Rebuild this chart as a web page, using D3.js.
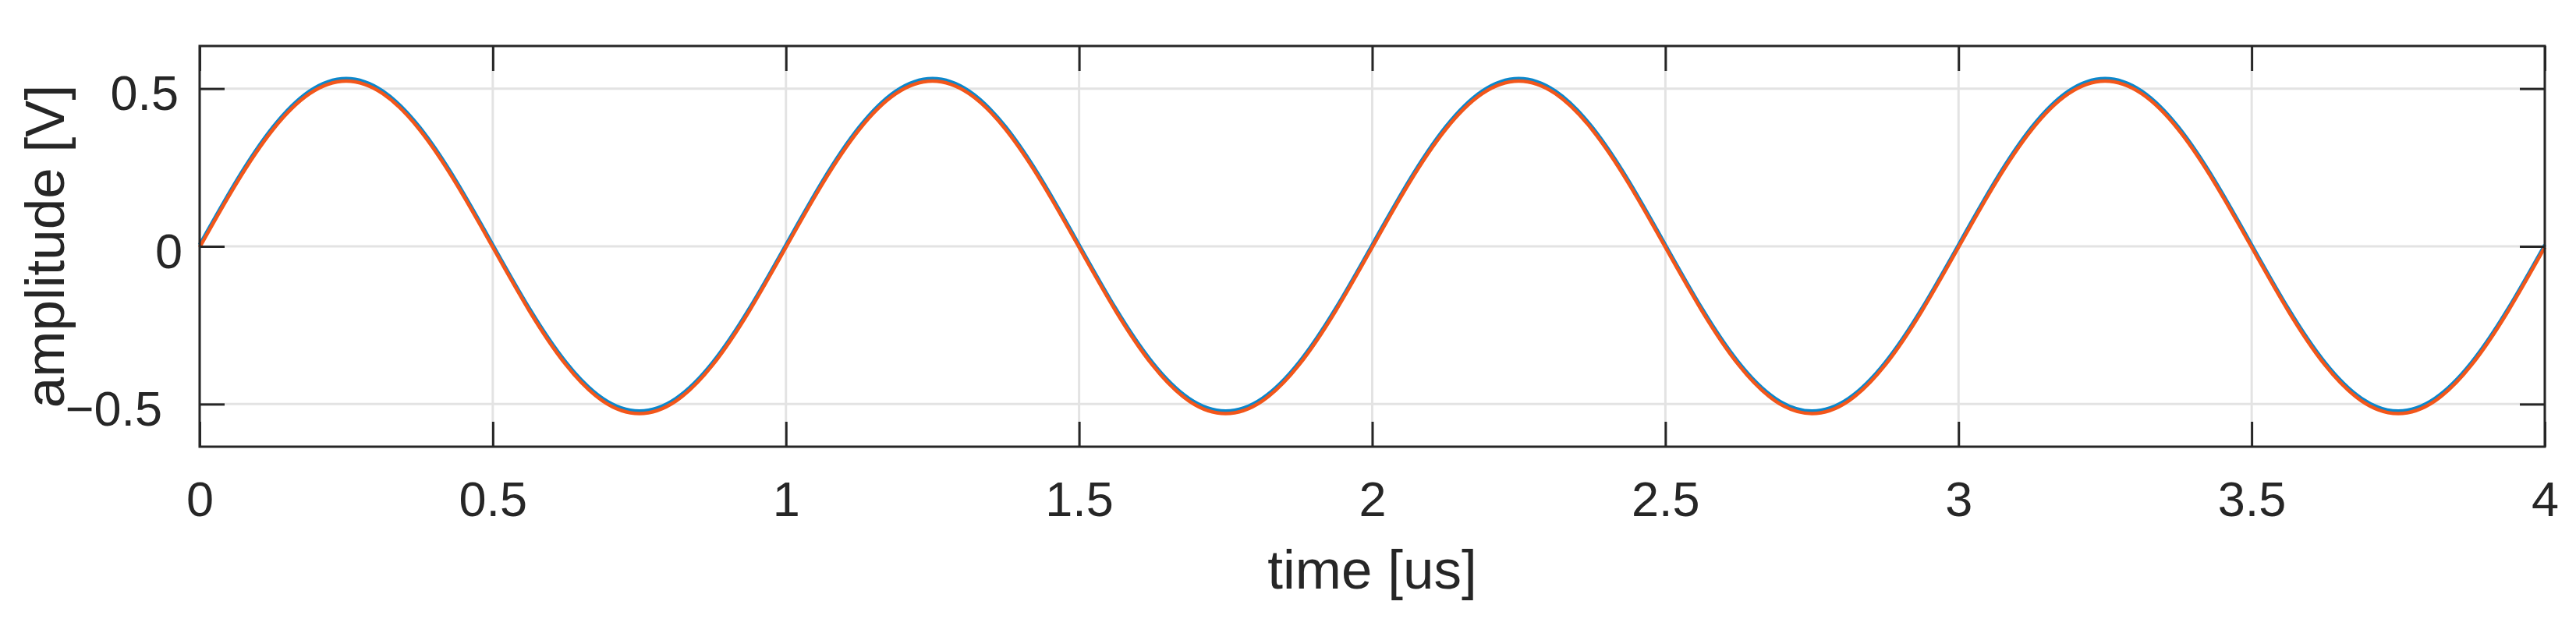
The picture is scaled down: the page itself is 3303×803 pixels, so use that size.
<!DOCTYPE html>
<html>
<head>
<meta charset="utf-8">
<script src="https://cdn.jsdelivr.net/npm/d3@7"></script>
<style>
  html, body { margin: 0; padding: 0; background: #ffffff; }
  svg { display: block; }
  text { font-family: "Liberation Sans", Arial, Helvetica, sans-serif; fill: #262626; }
</style>
</head>
<body>
<svg id="chart" width="3303" height="803"></svg>
<script>
// ---- data ----
const timeUs = [
  0, 0.0625, 0.125, 0.1875, 0.25, 0.3125, 0.375, 0.4375,
  0.5, 0.5625, 0.625, 0.6875, 0.75, 0.8125, 0.875, 0.9375,
  1, 1.0625, 1.125, 1.1875, 1.25, 1.3125, 1.375, 1.4375,
  1.5, 1.5625, 1.625, 1.6875, 1.75, 1.8125, 1.875, 1.9375,
  2, 2.0625, 2.125, 2.1875, 2.25, 2.3125, 2.375, 2.4375,
  2.5, 2.5625, 2.625, 2.6875, 2.75, 2.8125, 2.875, 2.9375,
  3, 3.0625, 3.125, 3.1875, 3.25, 3.3125, 3.375, 3.4375,
  3.5, 3.5625, 3.625, 3.6875, 3.75, 3.8125, 3.875, 3.9375,
  4
];
const blueSeries = [
  0.005, 0.207, 0.378, 0.492, 0.532, 0.492, 0.378, 0.207,
  0.005, -0.197, -0.368, -0.482, -0.522, -0.482, -0.368, -0.197,
  0.005, 0.207, 0.378, 0.492, 0.532, 0.492, 0.378, 0.207,
  0.005, -0.197, -0.368, -0.482, -0.522, -0.482, -0.368, -0.197,
  0.005, 0.207, 0.378, 0.492, 0.532, 0.492, 0.378, 0.207,
  0.005, -0.197, -0.368, -0.482, -0.522, -0.482, -0.368, -0.197,
  0.005, 0.207, 0.378, 0.492, 0.532, 0.492, 0.378, 0.207,
  0.005, -0.197, -0.368, -0.482, -0.522, -0.482, -0.368, -0.197,
  0.005
];
const orangeSeries = [
  -0.003, 0.199, 0.370, 0.484, 0.524, 0.484, 0.370, 0.199,
  -0.003, -0.205, -0.376, -0.490, -0.530, -0.490, -0.376, -0.205,
  -0.003, 0.199, 0.370, 0.484, 0.524, 0.484, 0.370, 0.199,
  -0.003, -0.205, -0.376, -0.490, -0.530, -0.490, -0.376, -0.205,
  -0.003, 0.199, 0.370, 0.484, 0.524, 0.484, 0.370, 0.199,
  -0.003, -0.205, -0.376, -0.490, -0.530, -0.490, -0.376, -0.205,
  -0.003, 0.199, 0.370, 0.484, 0.524, 0.484, 0.370, 0.199,
  -0.003, -0.205, -0.376, -0.490, -0.530, -0.490, -0.376, -0.205,
  -0.003
];
const xTicks = [0, 0.5, 1, 1.5, 2, 2.5, 3, 3.5, 4];
const xTickLabels = ["0", "0.5", "1", "1.5", "2", "2.5", "3", "3.5", "4"];
const yTicks = [-0.5, 0, 0.5];
const yTickLabels = ["\u22120.5", "0", "0.5"];
const xDomain = [0, 4];
const yDomain = [-0.635, 0.635];
const xLabel = "time [us]";
const yLabel = "amplitude [V]";

// ---- layout ----
const W = 3303, H = 803;
const m = { left: 256, top: 59, right: 40, bottom: 230 };
const pw = W - m.left - m.right, ph = H - m.top - m.bottom;
const axisColor = "#262626";
const gridColor = "#e3e3e3";
const tickFont = 63, labelFont = 71;
const tickLen = 32;
const yLabelRightEdge = [-48, -22, -27]; // per-label horizontal end positions as in the reference

const svg = d3.select("#chart");
const g = svg.append("g").attr("transform", `translate(${m.left},${m.top})`);

const x = d3.scaleLinear().domain(xDomain).range([0, pw]);
const y = d3.scaleLinear().domain(yDomain).range([ph, 0]);

// grid
g.append("g").selectAll("line").data(xTicks).join("line")
  .attr("x1", d => x(d)).attr("x2", d => x(d))
  .attr("y1", 0).attr("y2", ph)
  .attr("stroke", gridColor).attr("stroke-width", 3);
g.append("g").selectAll("line").data(yTicks).join("line")
  .attr("x1", 0).attr("x2", pw)
  .attr("y1", d => y(d)).attr("y2", d => y(d))
  .attr("stroke", gridColor).attr("stroke-width", 3);

// series
const line = d3.line().x(d => x(d[0])).y(d => y(d[1])).curve(d3.curveNatural);
const blueData = timeUs.map((t, i) => [t, blueSeries[i]]);
const orangeData = timeUs.map((t, i) => [t, orangeSeries[i]]);
g.append("path").datum(blueData).attr("d", line)
  .attr("fill", "none").attr("stroke", "#0b87cc").attr("stroke-width", 4.5)
  .attr("stroke-linejoin", "round");
g.append("path").datum(orangeData).attr("d", line)
  .attr("fill", "none").attr("stroke", "#f2561a").attr("stroke-width", 4.5)
  .attr("stroke-linejoin", "round");

// axes via d3 axis generators (inward ticks)
function styleAxis(sel) {
  sel.select(".domain").remove();
  sel.selectAll(".tick line").attr("stroke", axisColor).attr("stroke-width", 3);
  sel.selectAll(".tick text").attr("fill", axisColor).style("font-size", tickFont + "px")
    .style("font-family", '"Liberation Sans", Arial, Helvetica, sans-serif');
}

const xAxisB = d3.axisBottom(x).tickValues(xTicks)
  .tickFormat((d, i) => xTickLabels[i]).tickSizeInner(-tickLen).tickSizeOuter(0).tickPadding(0);
const gxb = g.append("g").attr("transform", `translate(0,${ph})`).call(xAxisB).call(styleAxis);
gxb.selectAll(".tick text").attr("y", 89).attr("dy", null);

const xAxisT = d3.axisTop(x).tickValues(xTicks).tickFormat("").tickSizeInner(-tickLen).tickSizeOuter(0);
g.append("g").call(xAxisT).call(styleAxis);

const yAxisL = d3.axisLeft(y).tickValues(yTicks)
  .tickFormat((d, i) => yTickLabels[i]).tickSizeInner(-tickLen).tickSizeOuter(0).tickPadding(0);
const gyl = g.append("g").call(yAxisL).call(styleAxis);
gyl.selectAll(".tick text").attr("x", (d, i) => yLabelRightEdge[i]).attr("dy", null).attr("y", 27).attr("text-anchor", "end");

const yAxisR = d3.axisRight(y).tickValues(yTicks).tickFormat("").tickSizeInner(-tickLen).tickSizeOuter(0);
g.append("g").attr("transform", `translate(${pw},0)`).call(yAxisR).call(styleAxis);

// box
g.append("rect").attr("x", 0).attr("y", 0).attr("width", pw).attr("height", ph)
  .attr("fill", "none").attr("stroke", axisColor).attr("stroke-width", 3);

// labels
svg.append("text").attr("x", m.left + pw / 2).attr("y", 755)
  .attr("text-anchor", "middle").style("font-size", labelFont + "px").text(xLabel);
svg.append("text").attr("transform", `translate(82,${m.top + ph / 2}) rotate(-90)`)
  .attr("text-anchor", "middle").style("font-size", labelFont + "px").text(yLabel);
</script>
</body>
</html>
